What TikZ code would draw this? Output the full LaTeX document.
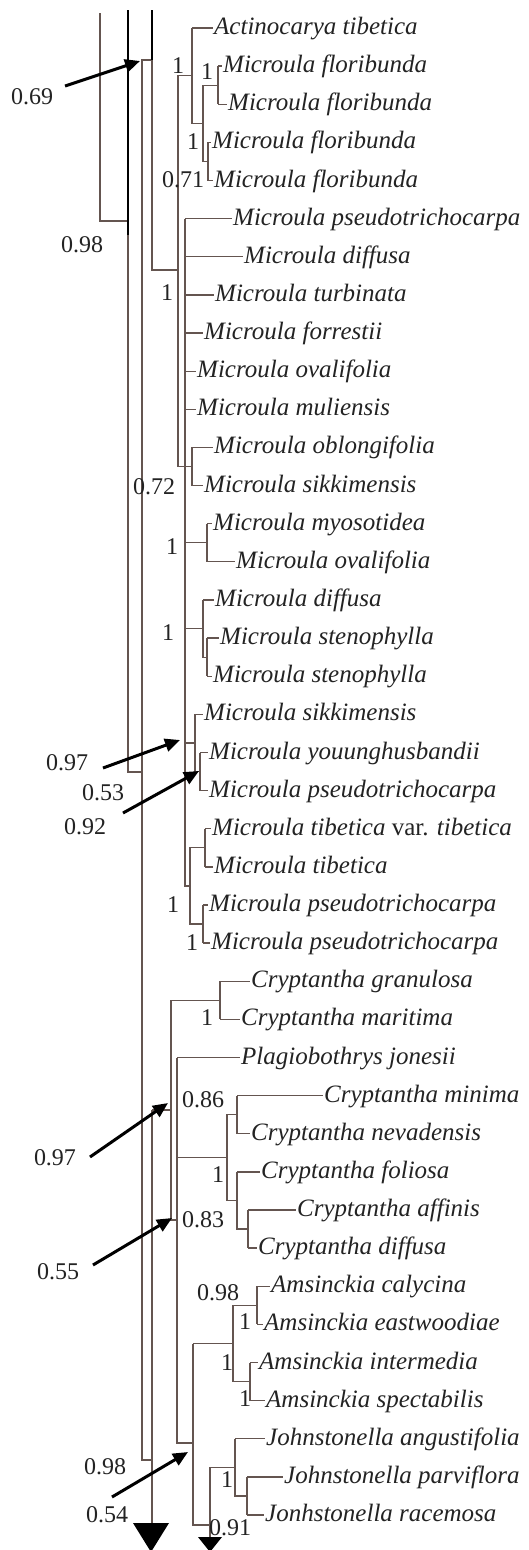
\documentclass[tikz,border=0pt]{standalone}
\usepackage{fontspec}
\setmainfont{Liberation Serif}
\usetikzlibrary{arrows.meta}
\definecolor{brc}{RGB}{100,85,80}
\definecolor{txc}{RGB}{35,35,35}
\tikzset{
 br/.style={draw=brc, line width=1.3pt},
 thk/.style={draw=black, line width=2.6pt},
 taxon/.style={font=\fontsize{25}{25}\selectfont\itshape, text=txc, anchor=base west, inner sep=1pt},
 supp/.style={font=\fontsize{24}{24}\selectfont, text=txc, inner sep=0pt},
 arr/.style={draw=black, line width=3pt, -{Triangle[length=15pt,width=13pt]}},
}
\newcommand{\leafx}[5]{\node[taxon] (#1) at (#3,#4+6.5) {#5}; \draw[br] (#2,#4) -- (#1.west |- #2,#4);}
\begin{document}
\begin{tikzpicture}[x=1pt,y=-1pt]
\fill[white] (0,0) rectangle (529,1550);
\useasboundingbox (0,0) rectangle (529,1550);
% leaves
\leafx{t1}{192}{213}{28.0}{Actinocarya tibetica}
\leafx{t2}{218}{222}{66.1}{Microula floribunda}
\leafx{t3}{218}{227}{104.3}{Microula floribunda}
\leafx{t4}{208}{211}{142.4}{Microula floribunda}
\leafx{t5}{208}{213}{180.5}{Microula floribunda}
\leafx{t6}{185}{232}{218.7}{Microula pseudotrichocarpa}
\leafx{t7}{185}{243}{256.8}{Microula diffusa}
\leafx{t8}{185}{214}{294.9}{Microula turbinata}
\leafx{t9}{185}{203}{333.0}{Microula forrestii}
\leafx{t10}{185}{196}{371.2}{Microula ovalifolia}
\leafx{t11}{185}{196}{409.3}{Microula muliensis}
\leafx{t12}{192}{213}{447.4}{Microula oblongifolia}
\leafx{t13}{192}{203}{485.6}{Microula sikkimensis}
\leafx{t14}{207}{212}{523.7}{Microula myosotidea}
\leafx{t15}{207}{235}{561.8}{Microula ovalifolia}
\leafx{t16}{203}{214}{600.0}{Microula diffusa}
\leafx{t17}{207}{219}{638.1}{Microula stenophylla}
\leafx{t18}{207}{212}{676.2}{Microula stenophylla}
\leafx{t19}{195}{203}{714.3}{Microula sikkimensis}
\leafx{t20}{200}{208}{752.5}{Microula youunghusbandii}
\leafx{t21}{200}{208}{790.6}{Microula pseudotrichocarpa}
\leafx{t22}{205}{211}{828.7}{Microula tibetica \textup{var.} tibetica}
\leafx{t23}{205}{213}{866.9}{Microula tibetica}
\leafx{t24}{203}{208}{905.0}{Microula pseudotrichocarpa}
\leafx{t25}{203}{210}{943.1}{Microula pseudotrichocarpa}
\leafx{t26}{220}{250}{981.2}{Cryptantha granulosa}
\leafx{t27}{220}{240}{1019.4}{Cryptantha maritima}
\leafx{t28}{177}{240}{1057.5}{Plagiobothrys jonesii}
\leafx{t29}{237}{323}{1095.6}{Cryptantha minima}
\leafx{t30}{237}{250}{1133.8}{Cryptantha nevadensis}
\leafx{t31}{237}{260}{1171.9}{Cryptantha foliosa}
\leafx{t32}{248}{296}{1210.0}{Cryptantha affinis}
\leafx{t33}{248}{257}{1248.1}{Cryptantha diffusa}
\leafx{t34}{257}{270}{1286.3}{Amsinckia calycina}
\leafx{t35}{257}{263}{1324.4}{Amsinckia eastwoodiae}
\leafx{t36}{250}{258}{1362.5}{Amsinckia intermedia}
\leafx{t37}{250}{265}{1400.7}{Amsinckia spectabilis}
\leafx{t38}{235}{265}{1438.8}{Johnstonella angustifolia}
\leafx{t39}{247}{283}{1476.9}{Johnstonella parviflora}
\leafx{t40}{247}{264}{1515.0}{Jonhstonella racemosa}
% internal branches, Microula part
\draw[br] (218,66.1) -- (218,104.3);
\draw[br] (208,142.4) -- (208,180.5);
\draw[br] (218,85.2) -- (203,85.2) -- (203,161.5) -- (208,161.5);
\draw[br] (192,28) -- (192,123.3) -- (203,123.3);
\draw[br] (192,75.7) -- (178,75.7) -- (178,466.5) -- (192,466.5);
\draw[br] (192,447.4) -- (192,485.6);
\draw[br] (185,218.7) -- (185,885.9) -- (190,885.9);
\draw[br] (185,542.8) -- (207,542.8);
\draw[br] (207,523.7) -- (207,561.8);
\draw[br] (207,638.1) -- (207,676.2);
\draw[br] (185,628.6) -- (203,628.6);
\draw[br] (203,600) -- (203,657.2) -- (207,657.2);
\draw[br] (200,752.5) -- (200,790.6);
\draw[br] (185,742.9) -- (195,742.9);
\draw[br] (195,714.3) -- (195,771.5) -- (200,771.5);
\draw[br] (205,828.7) -- (205,866.9);
\draw[br] (203,905) -- (203,943.1);
\draw[br] (205,847.8) -- (190,847.8) -- (190,924) -- (203,924);
% lower part
\draw[br] (220,981.2) -- (220,1019.4);
\draw[br] (220,1000.3) -- (171,1000.3) -- (171,1220) -- (177,1220);
\draw[br] (152,1110) -- (171,1110);
\draw[br] (177,1057.5) -- (177,1443) -- (193,1443);
\draw[br] (237,1095.6) -- (237,1133.8);
\draw[br] (248,1210) -- (248,1248.1);
\draw[br] (237,1171.9) -- (237,1229) -- (248,1229);
\draw[br] (237,1114.7) -- (227,1114.7) -- (227,1200.5) -- (237,1200.5);
\draw[br] (177,1157.6) -- (227,1157.6);
\draw[br] (257,1286.3) -- (257,1324.4);
\draw[br] (250,1362.5) -- (250,1400.7);
\draw[br] (257,1305.3) -- (233,1305.3) -- (233,1381.6) -- (250,1381.6);
\draw[br] (193,1343.5) -- (233,1343.5);
\draw[br] (193,1343.5) -- (193,1525) -- (210,1525);
\draw[br] (247,1476.9) -- (247,1515);
\draw[br] (247,1496) -- (235,1496) -- (235,1438.8);
\draw[br] (235,1467.4) -- (210,1467.4) -- (210,1538);
% left backbone
\draw[br] (100,13) -- (100,221) -- (128,221);
\draw[thk] (128,10) -- (128,235);
\draw[br] (128,235) -- (128,772) -- (142,772);
\draw[br] (152,60) -- (142,60) -- (142,1460) -- (152,1460);
\draw[thk] (152,10) -- (152,60);
\draw[br] (152,60) -- (152,270) -- (178,270);
\draw[br] (152,1110) -- (152,1524);
\fill[black] (133,1523) -- (169,1523) -- (151,1552) -- cycle;
\fill[black] (198,1537) -- (222,1537) -- (210,1552) -- cycle;
% support values
\node[supp] (s1) at (178,66) {1};
\node[supp] (s2) at (207,72) {1};
\node[supp] (s3) at (193,142) {1};
\node[supp] (s4) at (183,180) {0.71};
\node[supp] (s5) at (167,293) {1};
\node[supp] (s6) at (154,487) {0.72};
\node[supp] (s7) at (172,547) {1};
\node[supp] (s8) at (168,633) {1};
\node[supp] (s9) at (173,905) {1};
\node[supp] (s10) at (192,943) {1};
\node[supp] (s11) at (207,1018) {1};
\node[supp] (s12) at (203,1100) {0.86};
\node[supp] (s13) at (218,1175) {1};
\node[supp] (s14) at (203,1220) {0.83};
\node[supp] (s15) at (218,1293) {0.98};
\node[supp] (s16) at (245,1322) {1};
\node[supp] (s17) at (227,1363) {1};
\node[supp] (s18) at (245,1399) {1};
\node[supp] (s19) at (227,1480) {1};
\node[supp] (s20) at (230,1528) {0.91};
% arrow labels
\node[supp] (a1) at (32,97) {0.69};
\node[supp] (a2) at (82,245) {0.98};
\node[supp] (a3) at (67,763) {0.97};
\node[supp] (a4) at (103,793) {0.53};
\node[supp] (a5) at (85,827) {0.92};
\node[supp] (a6) at (55,1158) {0.97};
\node[supp] (a7) at (58,1272) {0.55};
\node[supp] (a8) at (105,1467) {0.98};
\node[supp] (a9) at (107,1515) {0.54};
% arrows
\coordinate (p1) at (65,86);   \coordinate (q1) at (140,61);
\coordinate (p2) at (103,768); \coordinate (q2) at (180,740);
\coordinate (p3) at (123,813); \coordinate (q3) at (199,771);
\coordinate (p4) at (90,1157); \coordinate (q4) at (168,1103);
\coordinate (p5) at (93,1265); \coordinate (q5) at (172,1218);
\coordinate (p6) at (112,1497);\coordinate (q6) at (188,1452);
\foreach \i in {1,...,6} { \draw[arr] (p\i) -- (q\i); }
\end{tikzpicture}
\end{document}
